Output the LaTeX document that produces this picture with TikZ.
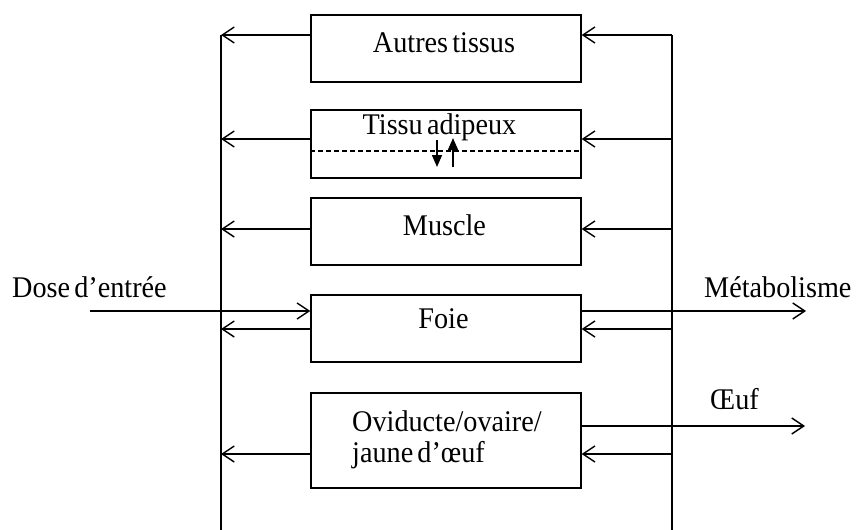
\documentclass[tikz,border=0pt]{standalone}
\usepackage{fontspec}
\setmainfont[FakeStretch=0.94,WordSpace=0.6]{Liberation Serif}
\usetikzlibrary{arrows.meta}
\begin{document}
\begin{tikzpicture}[x=1pt,y=-1pt,
  box/.style={draw,line width=1.4pt,minimum width=270pt,inner sep=0pt},
  lbl/.style={font=\fontsize{30}{33}\selectfont,inner sep=0pt},
  wire/.style={line width=1.4pt},
  arr/.style={line width=1.4pt,-{Straight Barb[length=12pt,width=16pt,line width=1.4pt]}},
  small/.style={line width=1.4pt,-{Triangle[length=12pt,width=10pt]}}]
\useasboundingbox (0,0) rectangle (857,530);
% boxes
\node[box,minimum height=67pt] (autres) at (446,48.5) {};
\node[box,minimum height=68pt] (adip) at (446,144) {};
\node[box,minimum height=67pt] (musc) at (446,231.5) {};
\node[box,minimum height=67pt] (foie) at (446,328.5) {};
\node[box,minimum height=95pt] (ovi) at (446,440.5) {};
% texts
\node[lbl,anchor=base] (tAutres) at (444,52) {Autres tissus};
\node[lbl,anchor=base] (tAdip) at (439.5,134) {Tissu adipeux};
\node[lbl,anchor=base] (tMusc) at (444.5,235) {Muscle};
\node[lbl,anchor=base] (tFoie) at (443.5,328) {Foie};
\node[lbl,anchor=base west] (tOvi1) at (352,431) {Oviducte/ovaire/};
\node[lbl,anchor=base west] (tOvi2) at (352,462) {jaune d’œuf};
\node[lbl,anchor=base west] (tDose) at (12,297) {Dose d’entrée};
\node[lbl,anchor=base west] (tMeta) at (704,297) {Métabolisme};
\node[lbl,anchor=base west] (tOeuf) at (710,409) {Œuf};
% vertical lines
\coordinate (LT) at (221,35);
\coordinate (LB) at (221,530);
\coordinate (RT) at (672,35);
\coordinate (RB) at (672,530);
\draw[wire] (LT) -- (LB);
\draw[wire] (RT) -- (RB);
% row coordinates
\coordinate (yA) at (0,35);
\coordinate (yB) at (0,139);
\coordinate (yC) at (0,229);
\coordinate (yD) at (0,329);
\coordinate (yE) at (0,454);
% left returns
\draw[arr] (autres.west |- yA) -- (LT |- yA);
\draw[arr] (adip.west |- yB) -- (LT |- yB);
\draw[arr] (musc.west |- yC) -- (LT |- yC);
\draw[arr] (foie.west |- yD) -- (LT |- yD);
\draw[arr] (ovi.west |- yE) -- (LT |- yE);
% right supplies
\draw[arr] (RT |- yA) -- (autres.east |- yA);
\draw[arr] (RT |- yB) -- (adip.east |- yB);
\draw[arr] (RT |- yC) -- (musc.east |- yC);
\draw[arr] (RT |- yD) -- (foie.east |- yD);
\draw[arr] (RT |- yE) -- (ovi.east |- yE);
% input / outputs
\coordinate (doseS) at (90,311);
\coordinate (metaE) at (806,311);
\coordinate (oeufE) at (805,426);
\draw[arr] (doseS) -- (foie.west |- doseS);
\draw[arr] (foie.east |- metaE) -- (metaE);
\draw[arr] (ovi.east |- oeufE) -- (oeufE);
% adipose dashed line and exchange arrows
\draw[line width=1.1pt,dash pattern=on 5pt off 3pt] (adip.west |- 0,151) -- (adip.east |- 0,151);
\coordinate (dTop) at (437,140);
\coordinate (dBot) at (437,167);
\coordinate (uBot) at (453,167);
\coordinate (uTop) at (453,138);
\draw[small] (dTop) -- (dBot);
\draw[small] (uBot) -- (uTop);
\end{tikzpicture}
\end{document}
